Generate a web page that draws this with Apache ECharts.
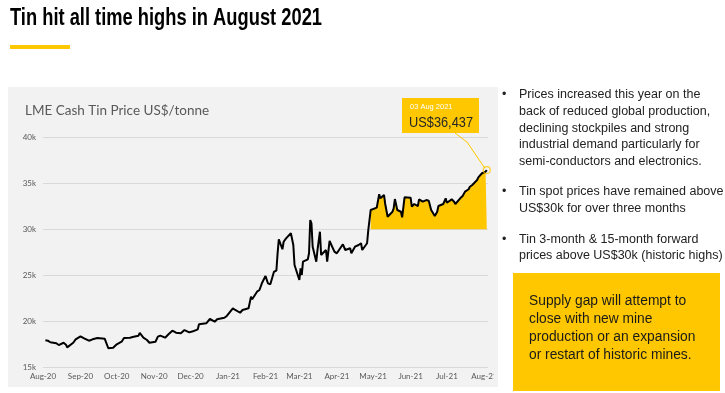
<!DOCTYPE html>
<html><head><meta charset="utf-8">
<script src="https://cdn.jsdelivr.net/npm/echarts@6/dist/echarts.min.js"></script>
<style>html,body{margin:0;padding:0;background:#fff}#c{width:725px;height:393px}</style>
</head><body><div id="c"></div>
<script>
const dates = ['2020-08-03','2020-08-05','2020-08-07','2020-08-12','2020-08-14','2020-08-18','2020-08-20','2020-08-21','2020-08-26','2020-08-28',
'2020-09-01','2020-09-04','2020-09-08','2020-09-11','2020-09-15','2020-09-21','2020-09-22','2020-09-24','2020-09-28',
'2020-10-01','2020-10-05','2020-10-07','2020-10-12','2020-10-15','2020-10-19','2020-10-20','2020-10-23','2020-10-26','2020-10-28','2020-10-29',
'2020-11-02','2020-11-04','2020-11-06','2020-11-10','2020-11-13','2020-11-16','2020-11-19','2020-11-23','2020-11-26','2020-11-30',
'2020-12-03','2020-12-07','2020-12-08','2020-12-14','2020-12-17','2020-12-21','2020-12-23','2020-12-29','2020-12-31',
'2021-01-05','2021-01-07','2021-01-11','2021-01-13','2021-01-18','2021-01-19','2021-01-20','2021-01-21','2021-01-25','2021-01-27','2021-01-29',
'2021-02-01','2021-02-03','2021-02-05','2021-02-08','2021-02-10','2021-02-11','2021-02-12','2021-02-15','2021-02-16','2021-02-18','2021-02-22','2021-02-23','2021-02-24','2021-02-25',
'2021-03-01','2021-03-02','2021-03-03','2021-03-04','2021-03-08','2021-03-09','2021-03-10','2021-03-11','2021-03-12','2021-03-15','2021-03-16','2021-03-18','2021-03-19','2021-03-23','2021-03-24','2021-03-26','2021-03-30',
'2021-04-01','2021-04-06','2021-04-08','2021-04-12','2021-04-13','2021-04-16','2021-04-19','2021-04-21','2021-04-22','2021-04-26','2021-04-27','2021-04-29',
'2021-05-04','2021-05-05','2021-05-06','2021-05-07','2021-05-10','2021-05-11','2021-05-13','2021-05-17','2021-05-18','2021-05-19','2021-05-21','2021-05-24','2021-05-25','2021-05-27',
'2021-06-01','2021-06-02','2021-06-04','2021-06-07','2021-06-08','2021-06-11','2021-06-14','2021-06-16','2021-06-18','2021-06-21','2021-06-23','2021-06-24','2021-06-28','2021-06-30',
'2021-07-01','2021-07-05','2021-07-07','2021-07-08','2021-07-12','2021-07-14','2021-07-16','2021-07-19','2021-07-20','2021-07-22','2021-07-26','2021-07-27','2021-07-28','2021-07-30',
'2021-08-02','2021-08-03'];
const prices = [17950,17890,17720,17610,17420,17670,17460,17170,17670,18040,
18370,18150,17890,18040,18180,18110,17970,17070,17130,
17500,17780,18180,18220,18330,18440,18730,18220,17970,17670,17670,
17780,18330,18440,18220,18620,18980,18760,18700,19050,18800,
18910,19130,19670,19780,20250,19960,20220,20390,20580,
21410,21230,20930,21230,21410,21590,22670,22390,23220,23400,24130,
24920,24130,24020,25390,25500,27390,28910,27830,28650,29020,29570,29630,28290,26120,
24490,25760,25030,26480,26740,27390,31010,30650,28110,26480,27750,29740,27210,27750,26480,28730,27570,
27390,28370,27750,27940,27390,28110,28290,28480,27750,28480,29920,32100,
32350,32460,33810,33370,33730,32750,31370,31910,32280,33290,32100,31910,31300,33480,
33440,32460,32750,32530,33260,33000,33180,33110,32100,31450,31910,32530,32750,33370,
32890,33260,33000,32750,33370,33620,34090,34350,34630,34820,35360,35650,35800,36090,
36260,36437];
const yTicks = [15000,20000,25000,30000,35000,40000];
const monthTicks = ['2020-08-01','2020-09-01','2020-10-01','2020-11-01','2020-12-01','2021-01-01','2021-02-01','2021-03-01','2021-04-01','2021-05-01','2021-06-01','2021-07-01','2021-08-01'];
const monthNames = ['Jan','Feb','Mar','Apr','May','Jun','Jul','Aug','Sep','Oct','Nov','Dec'];
const fillStart = '2021-04-29';
const fillBase = 30000;
const axisStart = '2020-08-01';
const axisEnd = '2021-08-04';

function ts(s){const p=s.split('-').map(Number);return Date.UTC(p[0],p[1]-1,p[2]);}
const lineData = dates.map((d,i)=>[ts(d),prices[i]]);
const fillIdx = dates.indexOf(fillStart);
const fillData = lineData.slice(fillIdx);
const lastIdx = dates.length-1;
const lastDate = new Date(ts(dates[lastIdx]));
const lastLabelDate = String(lastDate.getUTCDate()).padStart(2,'0')+' '+monthNames[lastDate.getUTCMonth()]+' '+lastDate.getUTCFullYear();
const lastLabelVal = 'US$'+prices[lastIdx].toLocaleString('en-US');

const mctx = document.createElement('canvas').getContext('2d');
function fitScale(text, font, w){mctx.font = font; return w / mctx.measureText(text).width;}

const chart = echarts.init(document.getElementById('c'));
const YEL = '#FFC700';
const PANEL = '#F2F2F2';
const bodyFont = '"Liberation Sans", Arial, sans-serif';
const titleText = 'Tin hit all time highs in August 2021';
const titleFont = 'bold 23px "Liberation Sans", Arial, sans-serif';
const graphics = [
  {type:'rect', z:-10, shape:{x:8,y:87,width:490,height:300}, style:{fill:PANEL}},
  {type:'text', x:10, y:19, scaleX:fitScale(titleText, titleFont, 312), style:{text:titleText, font:titleFont, fill:'#000', verticalAlign:'middle'}},
  {type:'rect', shape:{x:10,y:45,width:60,height:4}, style:{fill:YEL}},
  {type:'text', x:25, y:111, style:{text:'LME Cash Tin Price US$/tonne', font:'13.5px Lato, sans-serif', fill:'#595959', verticalAlign:'middle'}},
  {type:'rect', z:100, shape:{x:494,y:370,width:4,height:17}, style:{fill:PANEL}},
  {type:'rect', z:100, shape:{x:498,y:370,width:14,height:23}, style:{fill:'#fff'}},
  {type:'text', x:502, y:95, style:{text:'•', font:'12.5px '+bodyFont, fill:'#222', verticalAlign:'middle'}},
  {type:'text', x:519, y:86.7, style:{text:'Prices increased this year on the\nback of reduced global production,\ndeclining stockpiles and strong\nindustrial demand particularly for\nsemi-conductors and electronics.', font:'12.5px '+bodyFont, fill:'#222', lineHeight:16.6}},
  {type:'text', x:502, y:191.7, style:{text:'•', font:'12.5px '+bodyFont, fill:'#222', verticalAlign:'middle'}},
  {type:'text', x:519, y:183.4, style:{text:'Tin spot prices have remained above\nUS$30k for over three months', font:'12.5px '+bodyFont, fill:'#222', lineHeight:16.6}},
  {type:'text', x:502, y:239.3, style:{text:'•', font:'12.5px '+bodyFont, fill:'#222', verticalAlign:'middle'}},
  {type:'text', x:519, y:231, style:{text:'Tin 3-month & 15-month forward\nprices above US$30k (historic highs)', font:'12.5px '+bodyFont, fill:'#222', lineHeight:16.6}},
  {type:'rect', shape:{x:513,y:273,width:207,height:118}, style:{fill:YEL}},
  {type:'text', x:529, y:292.8, style:{text:'Supply gap will attempt to\nclose with new mine\nproduction or an expansion\nor restart of historic mines.', font:'13.8px '+bodyFont, fill:'#1a1a1a', lineHeight:17.7}}
];

chart.setOption({
  animation:false,
  backgroundColor:'#fff',
  grid:{left:43,right:237,top:137.3,bottom:25.7},
  xAxis:{type:'value', min:ts(axisStart), max:ts(axisEnd),
    axisLine:{show:false}, axisTick:{show:false}, splitLine:{show:false},
    axisLabel:{customValues:monthTicks.map(ts), hideOverlap:false, margin:5,
      color:'#595959', fontSize:8, fontFamily:'Lato, sans-serif',
      formatter:function(v){const d=new Date(v);return monthNames[d.getUTCMonth()]+'-'+String(d.getUTCFullYear()).slice(2);}}},
  yAxis:{type:'value', min:yTicks[0], max:yTicks[yTicks.length-1], interval:5000,
    axisLine:{show:false}, axisTick:{show:false},
    splitLine:{lineStyle:{color:'#D9D9D9', width:1}},
    axisLabel:{color:'#595959', fontSize:8, fontFamily:'Lato, sans-serif', margin:7, formatter:v=>(v/1000)+'k'}},
  series:[
    {type:'line', data:lineData, showSymbol:false, symbol:'none', lineStyle:{color:'#000', width:2}, z:5},
    {type:'line', data:fillData, showSymbol:false, symbol:'none', lineStyle:{width:0}, areaStyle:{color:YEL, opacity:1, origin:fillBase}, z:3},
    {type:'scatter', data:[lineData[lastIdx]], symbol:'circle', symbolSize:7, itemStyle:{color:'rgba(0,0,0,0)', borderColor:YEL, borderWidth:1.2}, z:6}
  ],
  graphic:graphics
});

const p = chart.convertToPixel({gridIndex:0}, lineData[lastIdx]);
const bx = 402, by = 98, bw = 77, bh = 35;
const valFont = '15px '+bodyFont;
chart.setOption({graphic: graphics.concat([
  {type:'polyline', z:4, shape:{points:[[bx+53,by+bh],[bx+65,by+bh+9],[p[0]-2,p[1]-2]]}, style:{stroke:YEL, lineWidth:1, fill:null}},
  {type:'rect', shape:{x:bx,y:by,width:bw,height:bh}, style:{fill:YEL}},
  {type:'text', x:bx+8, y:by+9, style:{text:lastLabelDate, font:'7.5px '+bodyFont, fill:'#fff', verticalAlign:'middle'}},
  {type:'text', x:bx+7, y:by+25, scaleX:fitScale(lastLabelVal, valFont, 64), style:{text:lastLabelVal, font:valFont, fill:'#262626', verticalAlign:'middle'}}
])});
</script></body></html>
